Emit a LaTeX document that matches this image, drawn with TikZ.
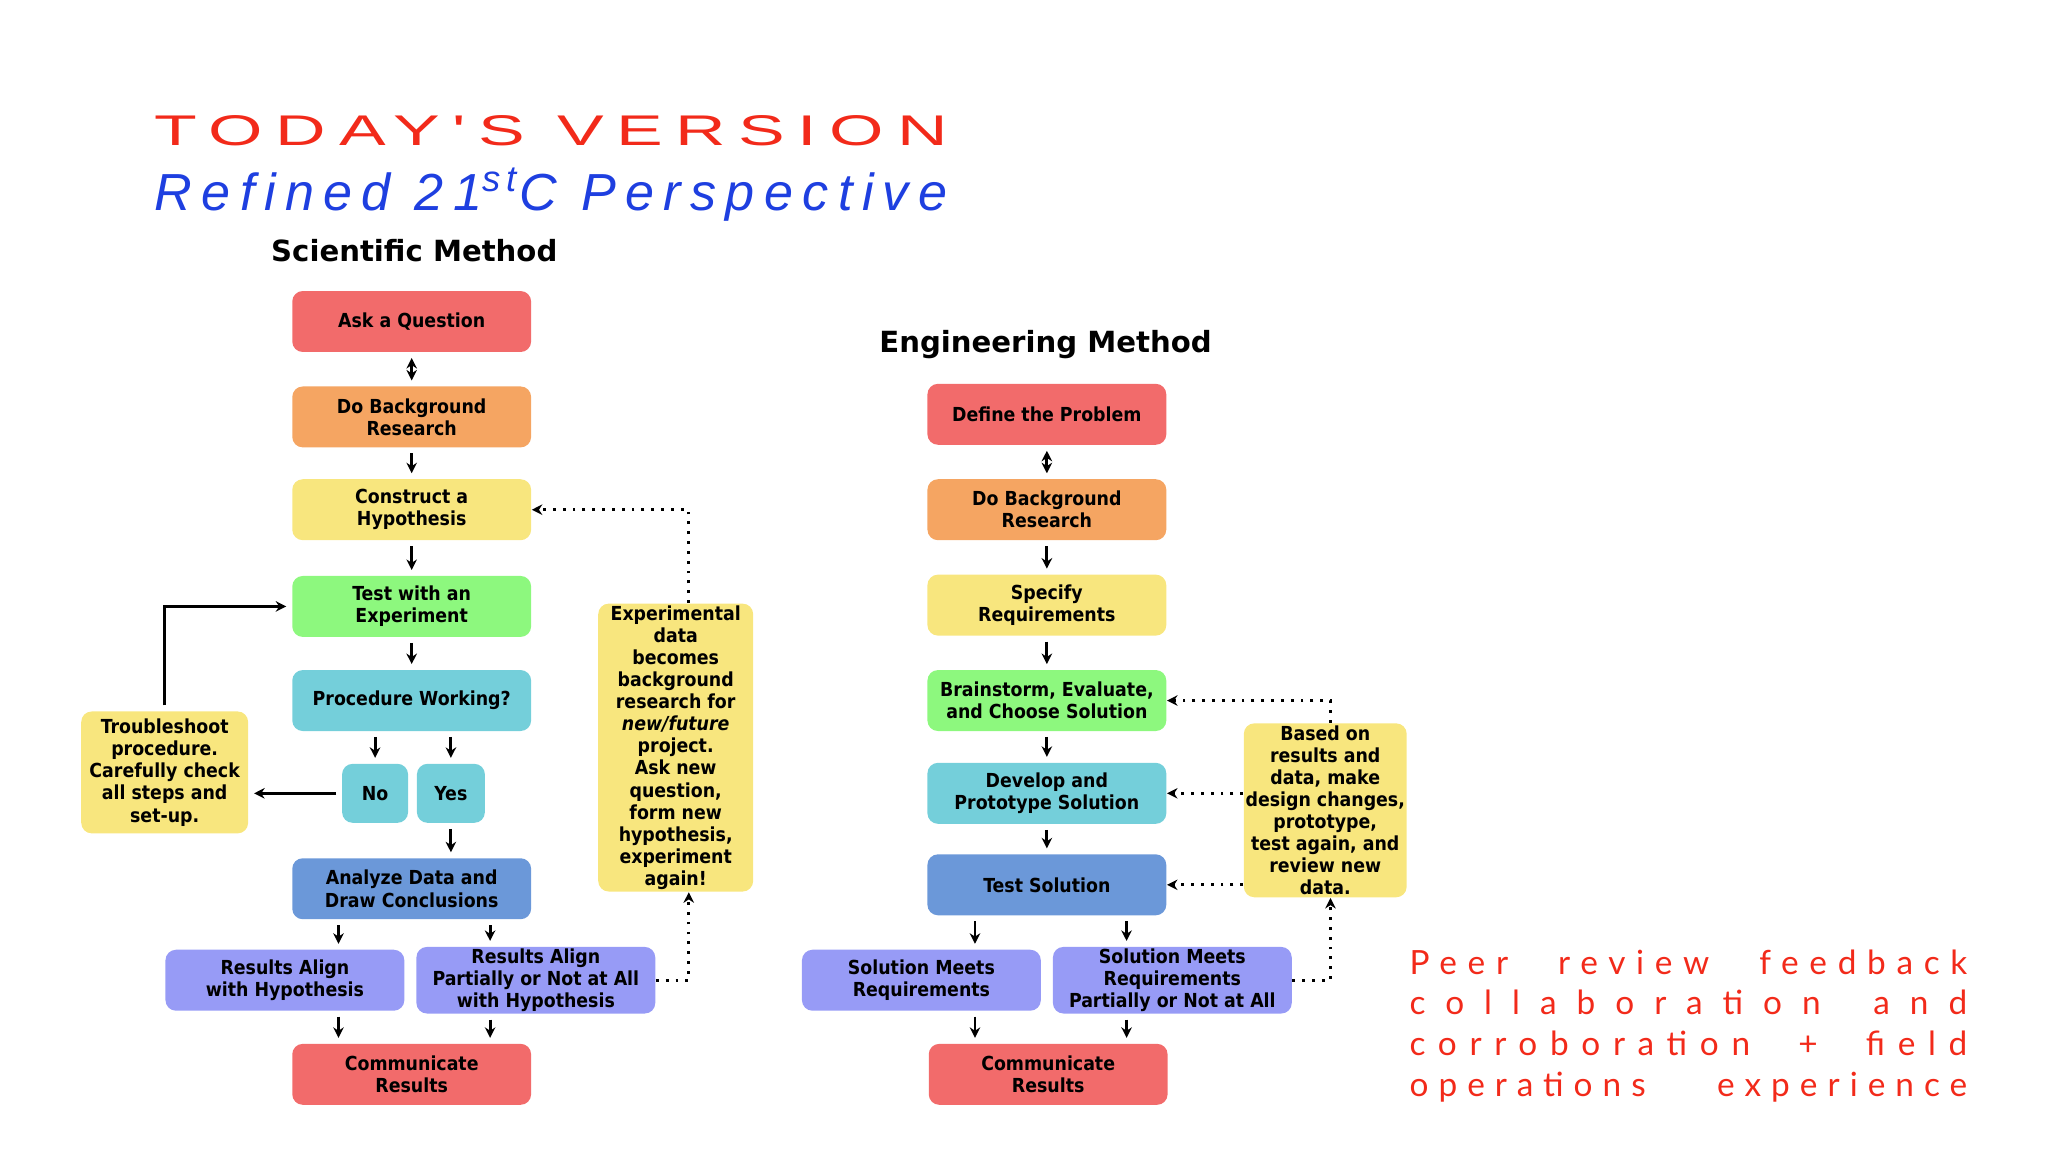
\documentclass[tikz,border=0pt]{standalone}
\usepackage{fontspec}
\setmainfont{DejaVu Sans Condensed}
\newfontfamily\headfont{DejaVu Sans}
\newfontfamily\titlefont[LetterSpace=18]{Liberation Sans}
\newfontfamily\peerfont{Lato}
\usetikzlibrary{arrows.meta}
\definecolor{boxred}{HTML}{F26B6B}
\definecolor{boxorange}{HTML}{F5A562}
\definecolor{boxyellow}{HTML}{F8E67E}
\definecolor{boxgreen}{HTML}{8DF87E}
\definecolor{boxcyan}{HTML}{74CFDA}
\definecolor{boxblue}{HTML}{6B98D9}
\definecolor{boxpurple}{HTML}{979BF6}
\definecolor{titlered}{HTML}{F22A1A}
\definecolor{titleblue}{HTML}{1E3FE0}
\newcommand\peerline[2]{\makebox[5.58cm][s]{\addfontfeatures{LetterSpace=#1}#2}}
\tikzset{
  stage/.style={rounded corners=3pt, minimum width=2.39cm, minimum height=0.61cm,
    align=center, font=\fontsize{5.5}{6.3}\selectfont\bfseries, inner sep=0.5pt},
  note/.style={stage, fill=boxyellow, minimum width=1.6cm},
  go/.style={-{Stealth[length=3pt,width=3pt]}, thick, shorten >=1.5pt, shorten <=1.5pt},
  back/.style={-{Stealth[length=3pt,width=3pt]}, thick, dotted},
  heading/.style={font=\fontsize{8.3}{10}\selectfont\headfont\bfseries}
}
\begin{document}
\begin{tikzpicture}[x=0.01307cm, y=-0.01307cm]
  \useasboundingbox (0,0) rectangle (1567,881);

  % Titles
  \node[anchor=west, inner sep=0, text=titlered] (title) at (118,100)
    {\resizebox{7.93cm}{0.30cm}{\titlefont TODAY'S VERSION}};
  \node[anchor=west, inner sep=0, text=titleblue] (subtitle) at (118,149)
    {\resizebox{7.93cm}{!}{\titlefont\itshape Refined 21\textsuperscript{st}C Perspective}};
  \node[heading] (scihead) at (317,192) {Scientific Method};
  \node[heading] (enghead) at (800,264) {Engineering Method};

  % Scientific method
  \node[stage, fill=boxred]    (ask)  at (315,246) {Ask a Question};
  \node[stage, fill=boxorange] (sbg)  at (315,319) {Do Background\\Research};
  \node[stage, fill=boxyellow] (hyp)  at (315,390) {Construct a\\Hypothesis};
  \node[stage, fill=boxgreen]  (exp)  at (315,464) {Test with an\\Experiment};
  \node[stage, fill=boxcyan]   (work) at (315,536) {Procedure Working?};
  \node[stage, fill=boxcyan, minimum width=0.66cm, minimum height=0.59cm] (no)  at (287,607) {No};
  \node[stage, fill=boxcyan, minimum width=0.68cm, minimum height=0.59cm] (yes) at (345,607) {Yes};
  \node[stage, fill=boxblue]   (ana)  at (315,680) {Analyze Data and\\Draw Conclusions};
  \node[stage, fill=boxpurple] (ralign) at (218,750) {Results Align\\with Hypothesis};
  \node[stage, fill=boxpurple] (rpart)  at (410,750) {Results Align\\Partially or Not at All\\with Hypothesis};
  \node[stage, fill=boxred]    (scom) at (315,822) {Communicate\\Results};
  \node[note, minimum width=1.67cm, minimum height=1.22cm] (trouble) at (126,591)
    {Troubleshoot\\procedure.\\Carefully check\\all steps and\\set-up.};
  \node[note, minimum width=1.55cm, minimum height=2.81cm] (newdata) at (517,572)
    {Experimental\\data\\becomes\\background\\research for\\\itshape new/future\\project.\\Ask new\\question,\\form new\\hypothesis,\\experiment\\again!};

  \draw[go, {Stealth[length=3pt,width=3pt]}-{Stealth[length=3pt,width=3pt]}] (ask) -- (sbg);
  \draw[go] (sbg) -- (hyp);
  \draw[go] (hyp) -- (exp);
  \draw[go] (exp) -- (work);
  \draw[go] (work.south -| no) -- (no);
  \draw[go] (work.south -| yes) -- (yes);
  \draw[go] (yes) -- (ana.north -| yes);
  \draw[go] (no.west) -- (no.west -| trouble.east);
  \draw[go] (trouble.north) |- (exp.west);
  \draw[go] (ana.south -| 259,0) -- (ralign.north -| 259,0);
  \draw[go] (ana.south -| 375,0) -- (rpart.north -| 375,0);
  \draw[go] (ralign.south -| 259,0) -- (scom.north -| 259,0);
  \draw[go] (rpart.south -| 375,0) -- (scom.north -| 375,0);
  \draw[back] (newdata.north -| 527,0) |- (hyp.east);
  \draw[back] (rpart.east) -| (newdata.south -| 527,0);

  % Engineering method
  \node[stage, fill=boxred]    (prob) at (801,317) {Define the Problem};
  \node[stage, fill=boxorange] (ebg)  at (801,390) {Do Background\\Research};
  \node[stage, fill=boxyellow] (req)  at (801,463) {Specify\\Requirements};
  \node[stage, fill=boxgreen]  (brain) at (801,536) {Brainstorm, Evaluate,\\and Choose Solution};
  \node[stage, fill=boxcyan]   (proto) at (801,607) {Develop and\\Prototype Solution};
  \node[stage, fill=boxblue]   (test)  at (801,677) {Test Solution};
  \node[stage, fill=boxpurple] (meets) at (705,750) {Solution Meets\\Requirements};
  \node[stage, fill=boxpurple] (epart) at (897,750) {Solution Meets\\Requirements\\Partially or Not at All};
  \node[stage, fill=boxred]    (ecom)  at (802,822) {Communicate\\Results};
  \node[note, minimum width=1.6cm, minimum height=1.74cm] (redesign) at (1014,620)
    {Based on\\results and\\data, make\\design changes,\\prototype,\\test again, and\\review new\\data.};

  \draw[go, {Stealth[length=3pt,width=3pt]}-{Stealth[length=3pt,width=3pt]}] (prob) -- (ebg);
  \draw[go] (ebg) -- (req);
  \draw[go] (req) -- (brain);
  \draw[go] (brain) -- (proto);
  \draw[go] (proto) -- (test);
  \draw[go] (test.south -| 746,0) -- (meets.north -| 746,0);
  \draw[go] (test.south -| 862,0) -- (epart.north -| 862,0);
  \draw[go] (meets.south -| 746,0) -- (ecom.north -| 746,0);
  \draw[go] (epart.south -| 862,0) -- (ecom.north -| 862,0);
  \draw[back] (redesign.north -| 1018,0) |- (brain.east);
  \draw[back] (redesign.west |- proto) -- (proto.east);
  \draw[back] (redesign.west |- test) -- (test.east);
  \draw[back] (epart.east) -| (redesign.south -| 1018,0);

  % Side remark
  \node[anchor=north west, inner sep=0, text=titlered, align=left,
        font=\fontsize{9.5}{11.6}\selectfont\peerfont] (peer) at (1078,726)
    {\peerline{32}{Peer review feedback}\\
     \peerline{60}{collaboration and}\\
     \peerline{38}{corroboration + field}\\
     \peerline{30}{operations experience}};
\end{tikzpicture}
\end{document}
